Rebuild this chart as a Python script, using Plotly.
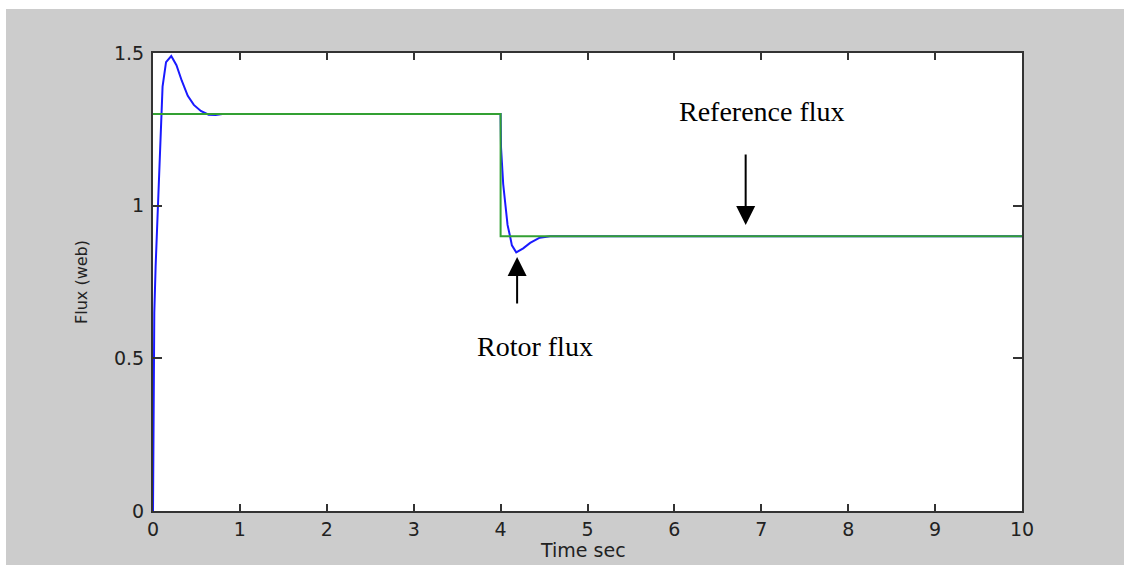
import plotly.graph_objects as go

# Rotor flux (blue) samples
rotor_t = [0.0, 0.005, 0.015, 0.03, 0.05, 0.08, 0.11, 0.15, 0.21, 0.27, 0.33, 0.40,
           0.47, 0.55, 0.64, 0.72, 0.80, 4.0, 4.005, 4.03, 4.06, 4.08, 4.11, 4.13,
           4.18, 4.26, 4.34, 4.45, 4.57, 10.0]
rotor_flux = [0.0, 0.2, 0.65, 0.80, 0.95, 1.15, 1.39, 1.47, 1.49, 1.46, 1.41, 1.36,
              1.33, 1.31, 1.298, 1.297, 1.30, 1.30, 1.19, 1.07, 0.99, 0.937, 0.898, 0.87,
              0.847, 0.86, 0.878, 0.895, 0.90, 0.90]

# Reference flux (green)
ref_t = [0.0, 4.0, 4.0, 10.0]
ref_flux = [1.3, 1.3, 0.9, 0.9]

x_ticks = [0, 1, 2, 3, 4, 5, 6, 7, 8, 9, 10]
y_ticks = [0, 0.5, 1, 1.5]
y_tick_text = ["0", "0.5", "1", "1.5"]

sans = "DejaVu Sans, Verdana, Arial"

fig = go.Figure()
fig.add_trace(go.Scatter(x=rotor_t, y=rotor_flux, mode="lines",
                         line=dict(color="#1a1aff", width=2), showlegend=False))
fig.add_trace(go.Scatter(x=ref_t, y=ref_flux, mode="lines",
                         line=dict(color="#33a033", width=2), showlegend=False))

axis_common = dict(showgrid=False, zeroline=False, showline=True, linecolor="#333333",
                   linewidth=2, mirror="ticks", ticks="inside", tickcolor="#333333",
                   tickwidth=1.5, tickfont=dict(family=sans, size=19, color="#222222"))

fig.update_xaxes(range=[0, 10], tickvals=x_ticks, ticklen=7, **axis_common)
fig.update_yaxes(range=[0, 1.5], tickvals=y_ticks, ticktext=y_tick_text, ticklen=9,
                 ticklabelstandoff=3, **axis_common)

# axis titles
fig.add_annotation(xref="paper", yref="paper", x=0.4948, y=-0.085, text="Time sec",
                   showarrow=False, font=dict(family=sans, size=19, color="#222222"),
                   xanchor="center", yanchor="middle")
fig.add_annotation(xref="paper", yref="paper", x=-0.0829, y=0.5, text="Flux (web)",
                   showarrow=False, textangle=-90, font=dict(family=sans, size=16, color="#222222"),
                   xanchor="center", yanchor="middle")

serif = dict(family="Liberation Serif, Times New Roman", size=28, color="#000000")
fig.add_annotation(x=7.01, y=1.31, text="Reference flux", showarrow=False, font=serif,
                   xanchor="center", yanchor="middle")
fig.add_annotation(x=4.40, y=0.54, text="Rotor flux", showarrow=False, font=serif,
                   xanchor="center", yanchor="middle")
# arrows
fig.add_annotation(x=6.82, y=0.937, ax=0, ay=-72, text="", showarrow=True,
                   arrowhead=2, arrowsize=1.9, arrowwidth=2, arrowcolor="#000000")
fig.add_annotation(x=4.19, y=0.832, ax=0, ay=48, text="", showarrow=True,
                   arrowhead=2, arrowsize=1.9, arrowwidth=2, arrowcolor="#000000")

# white outer strips (the grey panel starts a few pixels in)
fig.add_shape(type="rect", xref="paper", yref="paper", x0=-1, x1=2, y0=1.0 + (53 - 9) / 458, y1=1.5,
              fillcolor="white", line=dict(width=0), layer="below")
fig.add_shape(type="rect", xref="paper", yref="paper", x0=-1, x1=-(153 - 6) / 869, y0=-1, y1=2,
              fillcolor="white", line=dict(width=0), layer="below")

fig.update_layout(width=1124, height=565, margin=dict(l=153, r=102, t=53, b=54),
                  paper_bgcolor="#cccccc", plot_bgcolor="#ffffff")

fig.write_html("out.html")
